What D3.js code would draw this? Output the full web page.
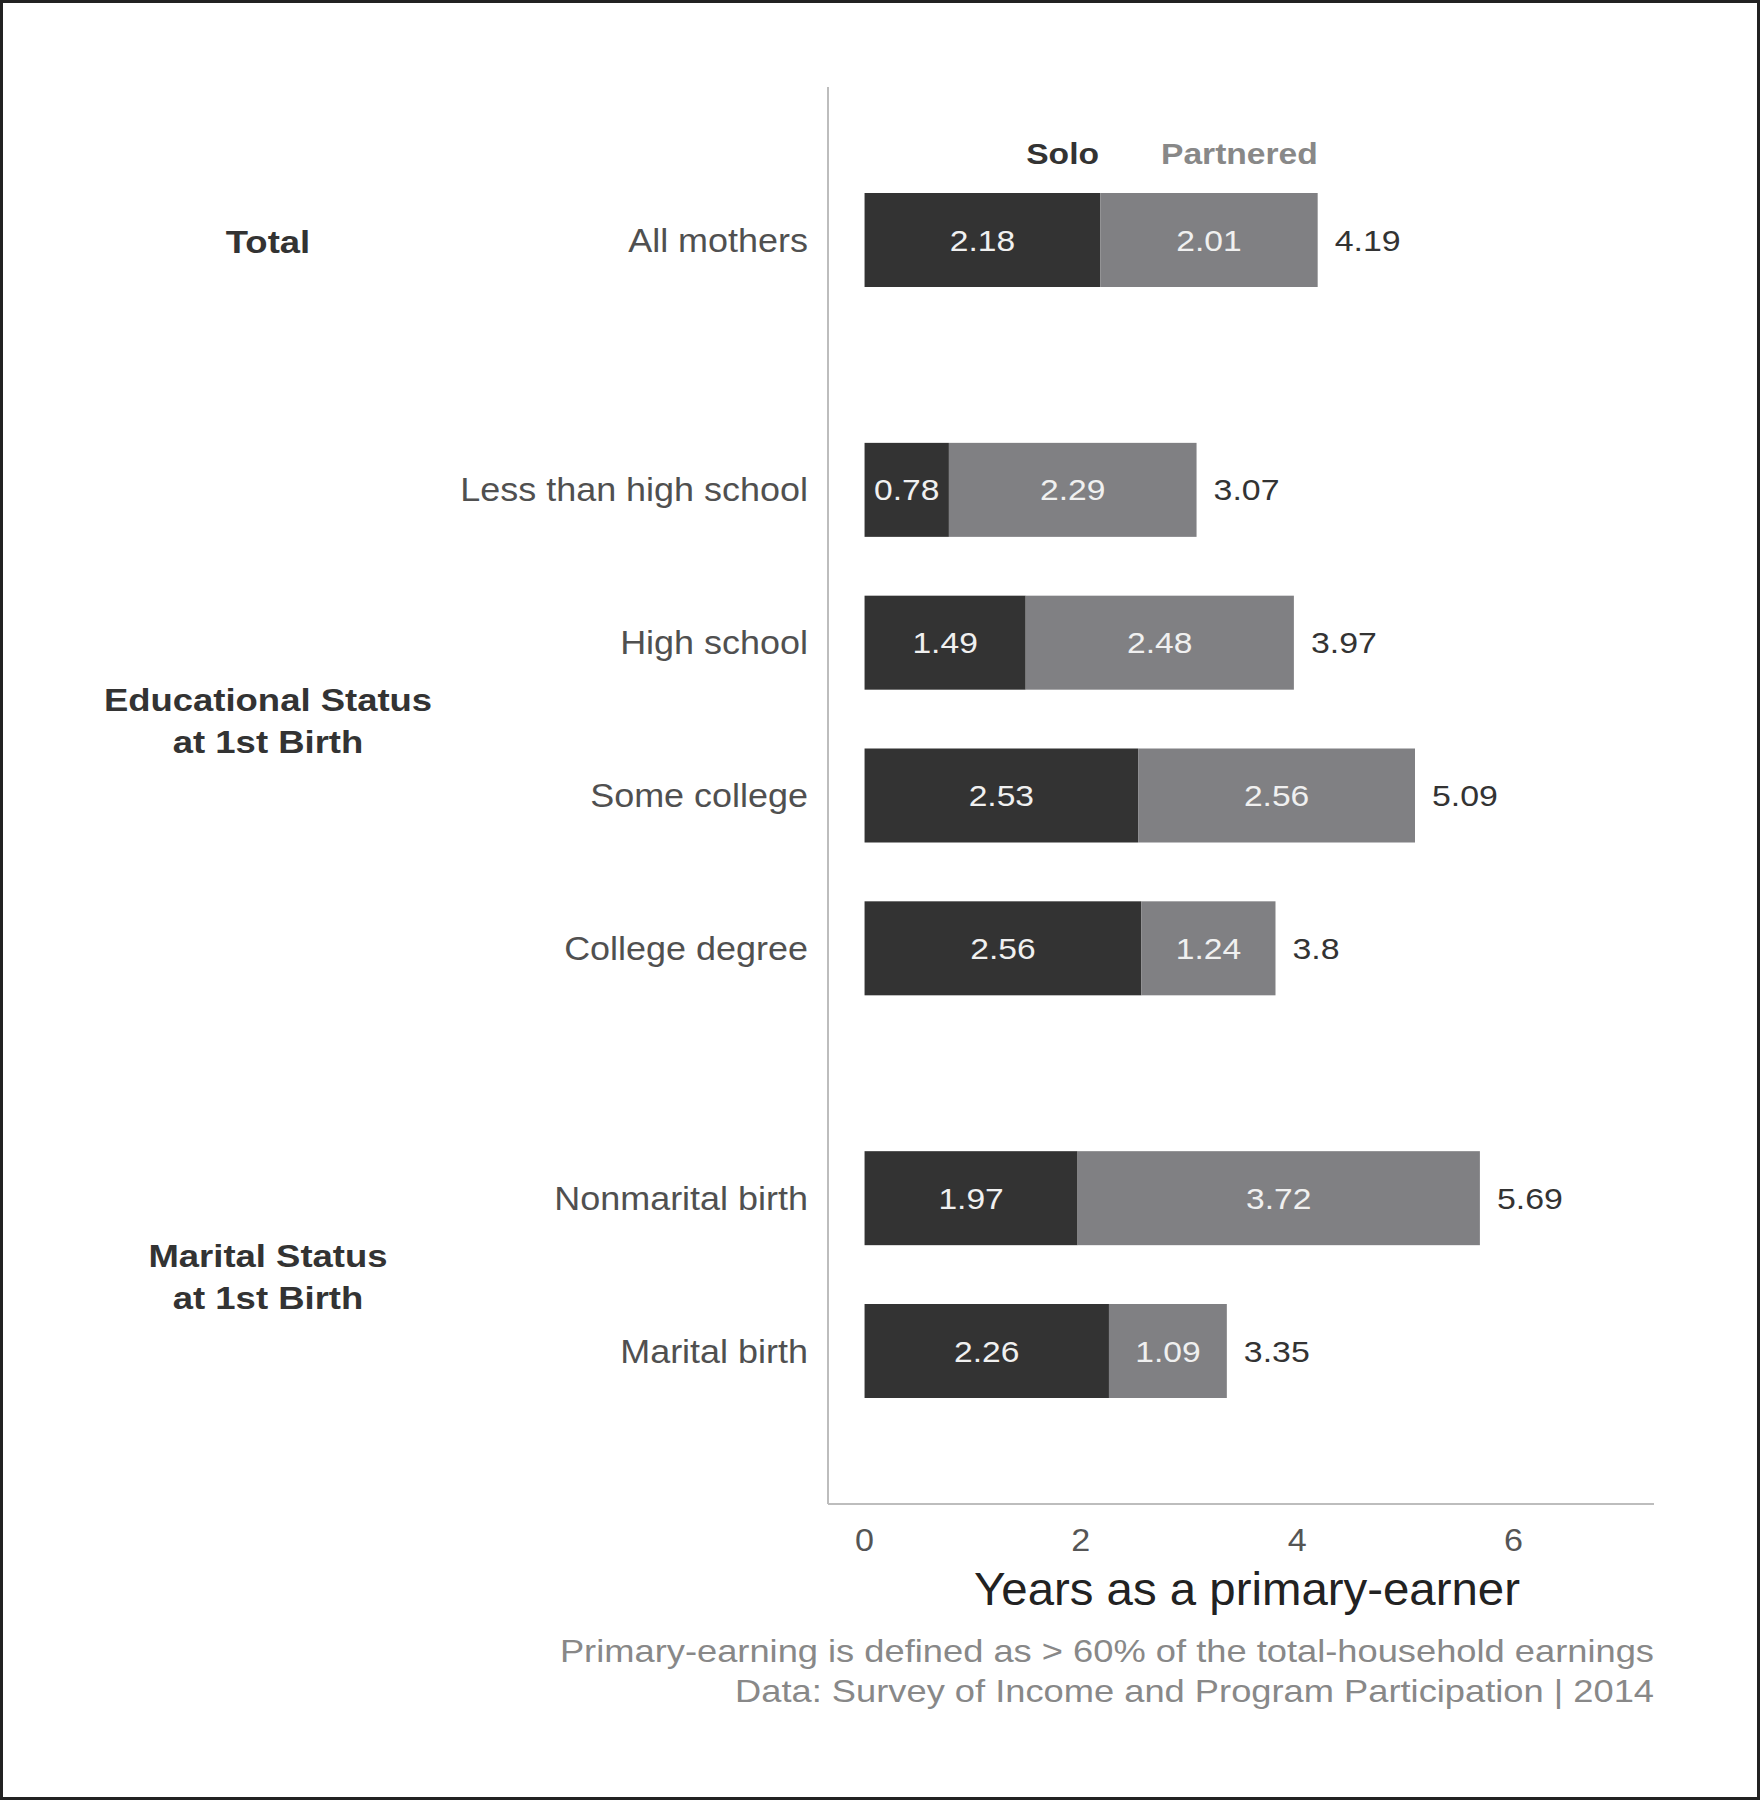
<!DOCTYPE html>
<html><head><meta charset="utf-8">
<script src="https://cdn.jsdelivr.net/npm/d3@7"></script>
<style>body{margin:0;background:#fff;} svg{display:block;font-family:"Liberation Sans",Arial,sans-serif;}</style>
</head><body>
<script>
const categories = ["All mothers","Less than high school","High school","Some college","College degree","Nonmarital birth","Marital birth"];
const groupOf = [0,1,1,1,1,2,2];
const groups = [["Total"],["Educational Status","at 1st Birth"],["Marital Status","at 1st Birth"]];
const solo = [2.18,0.78,1.49,2.53,2.56,1.97,2.26];
const partnered = [2.01,2.29,2.48,2.56,1.24,3.72,1.09];
const totals = [4.19,3.07,3.97,5.09,3.8,5.69,3.35];
const xTicks = [0,2,4,6];
const legendLabels = ["Solo","Partnered"];
const xTitle = "Years as a primary-earner";
const captionLines = ["Primary-earning is defined as > 60% of the total-household earnings","Data: Survey of Income and Program Participation | 2014"];

const W=1760,H=1800;
const cSolo="#333333", cPart="#808083";
const svg=d3.select("body").append("svg").attr("width",W).attr("height",H);
svg.append("rect").attr("x",1.5).attr("y",1.5).attr("width",W-3).attr("height",H-3).attr("fill","#fff").attr("stroke","#222").attr("stroke-width",3);

const x=d3.scaleLinear().domain([-0.338,7.3]).range([828,1654]);
const groupGap=0.635;
const slot=categories.map((c,i)=>i+groupOf[i]*groupGap);
const y=d3.scaleLinear().domain([0,slot[slot.length-1]]).range([240,1351]);
const barH=94;

// stretched text helper
function txt(sel,px,py,s,opts){
  const t=sel.append("text").attr("transform",`translate(${px},${py}) scale(${s},1)`).attr("dy","0.35em");
  Object.entries(opts).forEach(([k,v])=>{ if(k!=="text") t.attr(k,v); });
  if(opts.text!==undefined) t.text(opts.text);
  return t;
}

// axes lines
svg.append("line").attr("x1",828).attr("x2",828).attr("y1",87).attr("y2",1504).attr("stroke","#bdbdbd").attr("stroke-width",2);
svg.append("line").attr("x1",828).attr("x2",1654).attr("y1",1504).attr("y2",1504).attr("stroke","#bdbdbd").attr("stroke-width",2);

// x ticks
xTicks.forEach(d=>txt(svg,x(d),1540,1.1,{"text-anchor":"middle","font-size":31,"fill":"#555",text:d}));
txt(svg,1247,1589,1.03,{"text-anchor":"middle","font-size":46,"fill":"#222",text:xTitle});
captionLines.forEach((d,i)=>txt(svg,1654,1651+i*40,1.134,{"text-anchor":"end","font-size":32,"fill":"#888",text:d}));

// legend
txt(svg,1099,153,1.12,{"text-anchor":"end","font-size":30,"font-weight":"bold","fill":"#333",text:legendLabels[0]});
txt(svg,1161,153,1.12,{"text-anchor":"start","font-size":30,"font-weight":"bold","fill":"#888",text:legendLabels[1]});

categories.forEach((c,i)=>{
  const g=svg.append("g").attr("transform",`translate(0,${y(slot[i])})`);
  g.append("rect").attr("x",x(0)).attr("y",-barH/2).attr("width",x(solo[i])-x(0)).attr("height",barH).attr("fill",cSolo);
  g.append("rect").attr("x",x(solo[i])).attr("y",-barH/2).attr("width",x(solo[i]+partnered[i])-x(solo[i])).attr("height",barH).attr("fill",cPart);
  txt(g,(x(0)+x(solo[i]))/2,0,1.12,{"text-anchor":"middle","font-size":30,"fill":"#f0f0f0",text:solo[i]});
  txt(g,(x(solo[i])+x(solo[i]+partnered[i]))/2,0,1.12,{"text-anchor":"middle","font-size":30,"fill":"#f0f0f0",text:partnered[i]});
  txt(g,x(totals[i])+17,0,1.13,{"text-anchor":"start","font-size":30,"fill":"#333",text:totals[i]});
  txt(g,808,0,1.09,{"text-anchor":"end","font-size":33,"fill":"#505050",text:c});
});

// group labels
groups.forEach((lines,gi)=>{
  const idx=categories.map((c,i)=>i).filter(i=>groupOf[i]===gi);
  const cy=(y(slot[idx[0]])+y(slot[idx[idx.length-1]]))/2;
  lines.forEach((l,j)=>txt(svg,268,cy+(j-(lines.length-1)/2)*42+2,1.14,{"text-anchor":"middle","font-size":32,"font-weight":"bold","fill":"#333",text:l}));
});
</script>
</body></html>
